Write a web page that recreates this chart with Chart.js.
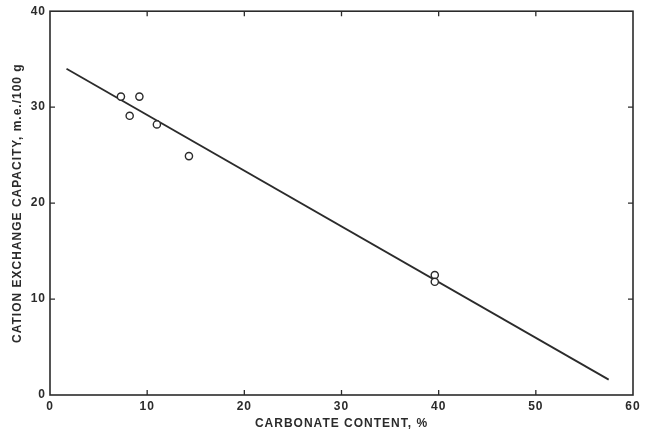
<!DOCTYPE html>
<html>
<head>
<meta charset="utf-8">
<script src="https://cdn.jsdelivr.net/npm/chart.js@4/dist/chart.umd.min.js"></script>
<style>
  body { margin: 0; background: #fff; }
  canvas { display: block; }
</style>
</head>
<body>
<canvas id="chart" width="649" height="439"></canvas>
<script>
// measured samples
const carbonate = [7.3, 9.2, 8.2, 11.0, 14.3, 39.6, 39.6]
const cec = [31.1, 31.1, 29.1, 28.2, 24.9, 12.5, 11.8]

// fitted line end points
const fitX = [1.7, 57.5]
const fitY = [34.0, 1.6]

const xTicks = [0, 10, 20, 30, 40, 50, 60]
const yTicks = [0, 10, 20, 30, 40]

const ink = '#2b2b2b'
const font = { family: 'Liberation Sans, Arial, sans-serif', size: 12, weight: 'bold' }

// the old print has wide letter spacing
const spacing = {
  id: 'spacing',
  beforeDraw(chart) { chart.ctx.letterSpacing = '1px' }
}

// frame with small inward ticks on all four sides
const frame = {
  id: 'frame',
  afterDraw(chart) {
    const { ctx, chartArea: a, scales: { x, y } } = chart
    ctx.save()
    ctx.strokeStyle = ink
    ctx.lineWidth = 1.6
    ctx.strokeRect(a.left, a.top, a.right - a.left, a.bottom - a.top)
    ctx.lineWidth = 1.3
    ctx.beginPath()
    xTicks.slice(1, -1).forEach((v) => {
      const px = x.getPixelForValue(v)
      ctx.moveTo(px, a.bottom); ctx.lineTo(px, a.bottom - 5)
      ctx.moveTo(px, a.top); ctx.lineTo(px, a.top + 5)
    })
    yTicks.slice(1, -1).forEach((v) => {
      const py = y.getPixelForValue(v)
      ctx.moveTo(a.left, py); ctx.lineTo(a.left + 5, py)
      ctx.moveTo(a.right, py); ctx.lineTo(a.right - 5, py)
    })
    ctx.stroke()
    ctx.restore()
  }
}

new Chart(document.getElementById('chart'), {
  type: 'scatter',
  data: {
    datasets: [{
      data: carbonate.map((v, i) => ({ x: v, y: cec[i] })),
      pointRadius: 3.6,
      pointBorderWidth: 1.4,
      pointBorderColor: ink,
      pointBackgroundColor: '#fff'
    }, {
      data: fitX.map((v, i) => ({ x: v, y: fitY[i] })),
      showLine: true,
      pointRadius: 0,
      borderColor: ink,
      borderWidth: 1.8
    }]
  },
  options: {
    responsive: false,
    animation: false,
    layout: { padding: { top: 8, right: 16, left: 0, bottom: 0 } },
    plugins: {
      legend: { display: false },
      tooltip: { enabled: false }
    },
    scales: {
      x: {
        min: 0,
        max: 60,
        afterFit: (s) => { s.height = 44 },
        afterBuildTicks: (s) => { s.ticks = xTicks.map((v) => ({ value: v })) },
        grid: { display: false, drawTicks: false },
        border: { display: false },
        ticks: { color: ink, font, padding: 4 },
        title: {
          display: true,
          text: 'CARBONATE CONTENT, %',
          color: ink,
          font,
          padding: { top: 0, bottom: 8 }
        }
      },
      y: {
        min: 0,
        max: 40,
        afterFit: (s) => { s.width = 50 },
        afterBuildTicks: (s) => { s.ticks = yTicks.map((v) => ({ value: v })) },
        grid: { display: false, drawTicks: false },
        border: { display: false },
        ticks: { color: ink, font, padding: 4 },
        title: {
          display: true,
          text: 'CATION EXCHANGE CAPACITY, m.e./100 g',
          color: ink,
          font,
          padding: { top: 10, bottom: 0 }
        }
      }
    }
  },
  plugins: [spacing, frame]
})
</script>
</body>
</html>
